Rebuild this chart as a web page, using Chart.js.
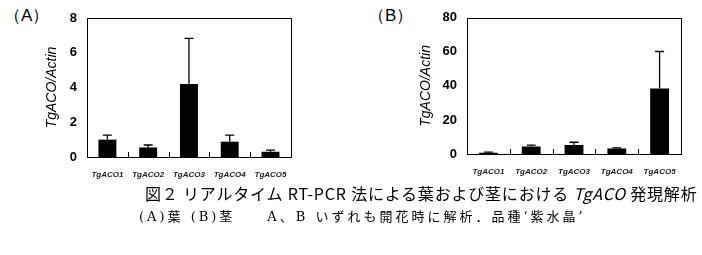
<!DOCTYPE html>
<html>
<head>
<meta charset="utf-8">
<script src="https://cdn.jsdelivr.net/npm/chart.js@4.4.1/dist/chart.umd.min.js"></script>
<style>
  body { margin: 0; background: #fff; width: 702px; height: 255px; position: relative; overflow: hidden; }
  .box { position: absolute; }
  .lbl { position: absolute; font-family: "Liberation Sans", Arial, sans-serif; font-size: 17px; color: #000; }
  .cap1 { position: absolute; left: 145px; top: 181px; font-family: "Noto Sans CJK JP", sans-serif; font-size: 16px; white-space: nowrap; color: #000; letter-spacing: 0.8px; }
  .cap2 { position: absolute; left: 139px; top: 206px; font-family: "DejaVu Serif", "Noto Sans CJK JP", serif; font-size: 13px; white-space: nowrap; color: #000; letter-spacing: 3px; }
</style>
</head>
<body>
<div class="lbl" style="left:4px; top:4px;">（A）</div>
<div class="lbl" style="left:368px; top:4px;">（B）</div>
<div class="box" style="left:40px; top:0; width:260px; height:190px;"><canvas id="chartA"></canvas></div>
<div class="box" style="left:414px; top:0; width:288px; height:190px;"><canvas id="chartB"></canvas></div>
<div class="cap1">図２ リアルタイム RT-PCR 法による葉および茎における <i>TgACO</i> 発現解析</div>
<div class="cap2">(A)葉 (B)茎　　A、B いずれも開花時に解析．品種‘紫水晶’</div>
<script>
// --- data ---
const genes = ['TgACO1', 'TgACO2', 'TgACO3', 'TgACO4', 'TgACO5'];
const leafMean = [1.0, 0.55, 4.2, 0.88, 0.3];
const leafSd = [0.26, 0.14, 2.63, 0.38, 0.1];
const stemMean = [0.7, 4.4, 5.3, 3.2, 38.4];
const stemSd = [0.4, 0.8, 1.6, 0.4, 21.8];
const leafTicks = [0, 2, 4, 6, 8];
const stemTicks = [0, 20, 40, 60, 80];

// frame, inner tick marks between categories, upper error bars
const framePlugin = {
    id: 'frame',
    afterDatasetsDraw(chart) {
        const { ctx, chartArea: a, scales } = chart;
        const x = scales.x, y = scales.y;
        const ds = chart.data.datasets[0];
        ctx.save();
        ctx.strokeStyle = '#000';
        // error bars
        ctx.lineWidth = 1.3;
        ds.data.forEach((v, i) => {
            const px = x.getPixelForValue(i);
            const y0 = y.getPixelForValue(v);
            const y1 = y.getPixelForValue(v + ds.sd[i]);
            ctx.beginPath();
            ctx.moveTo(px, y0);
            ctx.lineTo(px, y1);
            ctx.moveTo(px - 4.5, y1);
            ctx.lineTo(px + 4.5, y1);
            ctx.stroke();
        });
        // box
        ctx.lineWidth = 1;
        ctx.strokeRect(Math.round(a.left) + 0.5, Math.round(a.top) + 0.5, Math.round(a.right - a.left), Math.round(a.bottom - a.top));
        // category boundary ticks
        for (let i = 1; i < genes.length; i++) {
            const bx = Math.round((x.getPixelForValue(i - 1) + x.getPixelForValue(i)) / 2) + 0.5;
            ctx.beginPath();
            ctx.moveTo(bx, a.bottom);
            ctx.lineTo(bx, a.bottom - 5);
            ctx.stroke();
        }
        ctx.restore();
    }
};

function makeChart(id, mean, sd, tickVals, yMax, pad, yWidth, xHeight) {
    const ctx = document.getElementById(id).getContext('2d');
    return new Chart(ctx, {
        type: 'bar',
        data: {
            labels: genes,
            datasets: [{ data: mean, sd: sd, backgroundColor: '#000', borderWidth: 0, barPercentage: 0.44, categoryPercentage: 1 }]
        },
        options: {
            responsive: true,
            maintainAspectRatio: false,
            animation: false,
            layout: { padding: pad },
            plugins: { legend: { display: false }, tooltip: { enabled: false } },
            scales: {
                x: {
                    grid: { display: false, drawTicks: false },
                    border: { display: false },
                    ticks: { color: '#222', padding: 13, maxRotation: 0, autoSkip: false, font: { family: 'Liberation Sans', size: 8, style: 'italic', weight: 'bold' } },
                    afterFit: s => { s.height = xHeight; }
                },
                y: {
                    min: 0, max: yMax,
                    afterBuildTicks: s => { s.ticks = tickVals.map(v => ({ value: v })); },
                    grid: { display: false, drawTicks: false },
                    border: { display: false },
                    ticks: { color: '#000', padding: 10, font: { family: 'Liberation Sans', size: 13, weight: 'bold' } },
                    title: { display: true, text: 'TgACO/Actin', color: '#000', padding: { top: 4, bottom: 4 }, font: { family: 'Liberation Sans', size: 14, style: 'italic' } },
                    afterFit: s => { s.width = yWidth; }
                }
            }
        },
        plugins: [framePlugin]
    });
}

makeChart('chartA', leafMean, leafSd, leafTicks, 8, { top: 18, right: 5, left: 0, bottom: 0 }, 47, 33);
makeChart('chartB', stemMean, stemSd, stemTicks, 80, { top: 15, right: 21, left: 0, bottom: 0 }, 53, 36);
</script>
</body>
</html>
